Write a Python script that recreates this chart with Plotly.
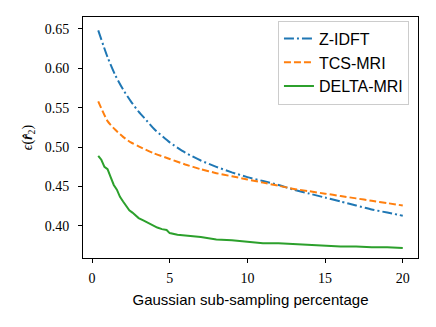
import plotly.graph_objects as go

# Data
x_zidft = [0.4, 1.0, 1.5, 2.0, 2.5, 3.0, 3.5, 4.0, 5.0, 6.0, 7.0, 8.0, 9.0, 10.0,
           11.0, 12.0, 13.0, 14.0, 15.0, 16.0, 17.0, 18.0, 19.0, 20.0]
y_zidft = [0.648, 0.614, 0.591, 0.573, 0.558, 0.545, 0.534, 0.523, 0.506, 0.493,
           0.483, 0.475, 0.468, 0.462, 0.457, 0.452, 0.446, 0.441, 0.436, 0.431,
           0.426, 0.421, 0.417, 0.413]

x_tcs = [0.4, 1.0, 1.5, 2.0, 2.5, 3.0, 4.0, 5.0, 6.0, 7.0, 8.0, 9.0, 10.0,
         11.0, 12.0, 13.0, 14.0, 15.0, 16.0, 17.0, 18.0, 19.0, 20.0]
y_tcs = [0.558, 0.533, 0.522, 0.513, 0.506, 0.501, 0.492, 0.485, 0.478, 0.472,
         0.467, 0.463, 0.459, 0.455, 0.451, 0.447, 0.444, 0.441, 0.438, 0.435,
         0.432, 0.429, 0.426]

x_delta = [0.4, 0.6, 0.8, 1.0, 1.2, 1.4, 1.6, 1.8, 2.0, 2.2, 2.4, 2.6, 2.8, 3.0,
           3.3, 3.6, 3.9, 4.2, 4.5, 4.8, 5.0, 5.5, 6.0, 7.0, 8.0, 9.0, 10.0,
           11.0, 12.0, 13.0, 14.0, 15.0, 16.0, 17.0, 18.0, 19.0, 20.0]
y_delta = [0.489, 0.484, 0.475, 0.472, 0.462, 0.452, 0.446, 0.437, 0.431, 0.425,
           0.420, 0.417, 0.413, 0.410, 0.407, 0.404, 0.400, 0.398, 0.396, 0.395,
           0.391, 0.389, 0.388, 0.386, 0.383, 0.382, 0.380, 0.378, 0.378, 0.377,
           0.376, 0.375, 0.374, 0.374, 0.373, 0.373, 0.372]

x_ticks = [0, 5, 10, 15, 20]
y_ticks = [0.40, 0.45, 0.50, 0.55, 0.60, 0.65]

serif = "Liberation Serif"
sans = "Liberation Sans"

fig = go.Figure()
fig.add_trace(go.Scatter(x=x_zidft, y=y_zidft, mode="lines", name="Z-IDFT",
                         legendgroup="a",
                         line=dict(color="#1f77b4", width=2, dash="10px,3px,2px,3px",
                                   shape="spline", smoothing=0.6)))
fig.add_trace(go.Scatter(x=x_tcs, y=y_tcs, mode="lines", name="TCS-MRI",
                         legendgroup="b",
                         line=dict(color="#ff7f0e", width=2, dash="7px,3px",
                                   shape="spline", smoothing=0.6)))
fig.add_trace(go.Scatter(x=x_delta, y=y_delta, mode="lines", name="DELTA-MRI",
                         legendgroup="c",
                         line=dict(color="#2ca02c", width=2)))

fig.update_layout(
    width=436, height=327,
    margin=dict(l=83, r=18, t=17, b=69),
    plot_bgcolor="white", paper_bgcolor="white",
    showlegend=True,
    legend=dict(x=0.973, y=0.985, xanchor="right", yanchor="top",
                bgcolor="rgba(255,255,255,0.8)", bordercolor="#cccccc", borderwidth=1,
                font=dict(family=sans, size=16, color="black"),
                traceorder="grouped", tracegroupgap=0),
    xaxis=dict(range=[-0.58, 20.98], tickvals=x_ticks, ticktext=[str(v) for v in x_ticks],
               automargin=False,
               showgrid=False, zeroline=False, showline=True, linecolor="black",
               linewidth=1, mirror=True, ticks="outside", ticklen=4, tickwidth=1,
               tickcolor="black", tickfont=dict(family=serif, size=14, color="black"),
               ticklabelstandoff=3,
               title=dict(text="Gaussian sub-sampling percentage",
                          font=dict(family=sans, size=15, color="black"), standoff=9)),
    yaxis=dict(range=[0.3594, 0.665], tickvals=y_ticks,
               ticktext=["%.2f" % v for v in y_ticks],
               automargin=False,
               showgrid=False, zeroline=False, showline=True, linecolor="black",
               linewidth=1, mirror=True, ticks="outside", ticklen=4, tickwidth=1,
               tickcolor="black", tickfont=dict(family=serif, size=14, color="black"),
               ticklabelstandoff=6,
               title=dict(text="<i>ϵ</i>(<b><i>r̂</i></b><sub>2</sub>)",
                          font=dict(family=serif, size=14, color="black"), standoff=8)),
)

fig.write_html("out.html", config={"displayModeBar": False},
               post_script="document.body.style.margin='0';document.body.style.overflow='hidden';")
